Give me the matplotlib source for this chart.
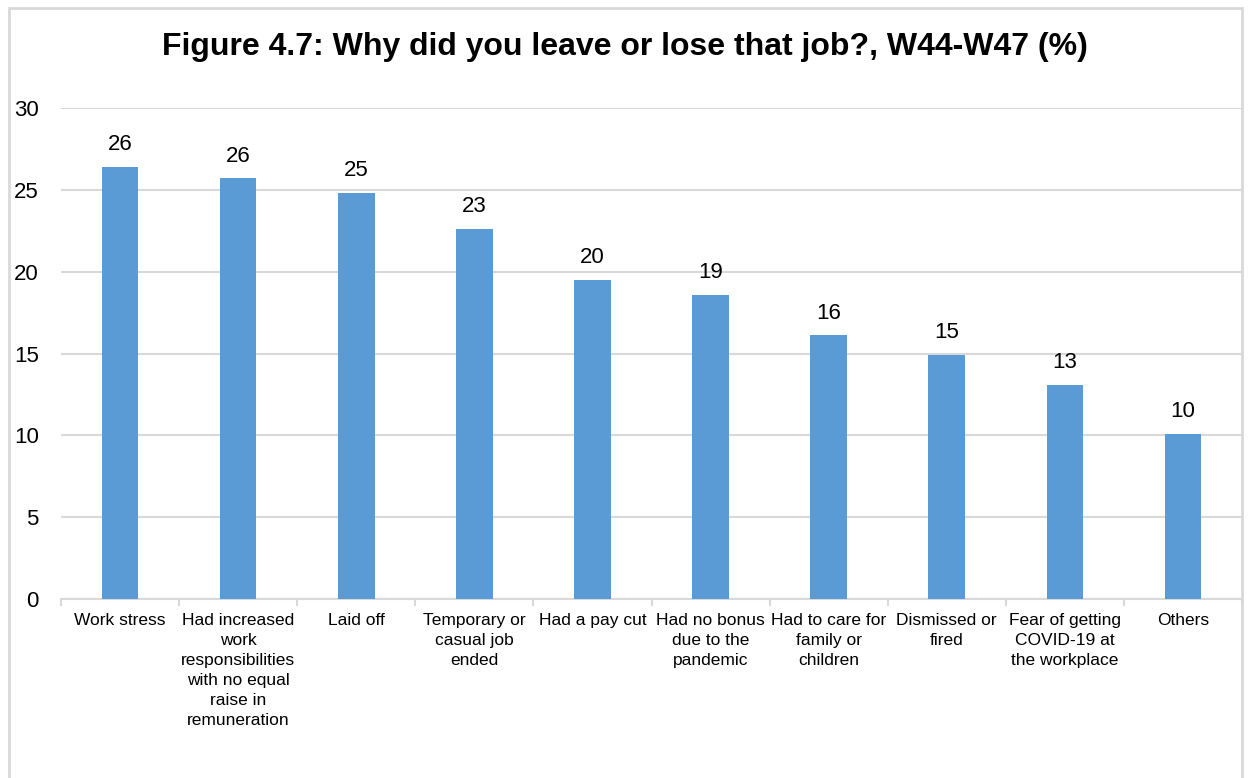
import matplotlib
matplotlib.use("Agg")
import matplotlib.pyplot as plt
from matplotlib.patches import Rectangle
import numpy as np

plt.rcParams['font.family'] = ['Liberation Sans', 'DejaVu Sans']

categories = [
    "Work stress",
    "Had increased\nwork\nresponsibilities\nwith no equal\nraise in\nremuneration",
    "Laid off",
    "Temporary or\ncasual job\nended",
    "Had a pay cut",
    "Had no bonus\ndue to the\npandemic",
    "Had to care for\nfamily or\nchildren",
    "Dismissed or\nfired",
    "Fear of getting\nCOVID-19 at\nthe workplace",
    "Others",
]
values = [26.4, 25.7, 24.8, 22.6, 19.5, 18.6, 16.1, 14.9, 13.1, 10.1]
y_ticks = [0, 5, 10, 15, 20, 25, 30]
title = "Figure 4.7: Why did you leave or lose that job?, W44-W47 (%)"

bar_color = "#5B9BD5"
grid_color = "#D9D9D9"

fig = plt.figure(figsize=(12.49, 7.78), dpi=100)
W, H = 1249, 778

# light frame around the chart area
fig.patches.append(Rectangle((8.5 / W, -0.05), (1242 - 8.5) / W, 1.05 - 7.5 / H,
                             transform=fig.transFigure, fill=False,
                             edgecolor=grid_color, linewidth=2))

ax = fig.add_axes([61 / W, 1 - 599 / H, (1242 - 61) / W, (599 - 108) / H])

x = np.arange(len(categories))
bars = ax.bar(x, values, width=0.31, color=bar_color, zorder=3)

for xi, v in zip(x, values):
    ax.annotate(f"{v:.0f}", (xi, v), xytext=(0, 8.5), textcoords="offset points",
                ha="center", va="bottom", fontsize=16, color="#000000")

ax.set_ylim(0, 30)
ax.set_xlim(-0.5, len(categories) - 0.5)
ax.set_yticks(y_ticks)
ax.set_yticklabels([str(t) for t in y_ticks], fontsize=16)
ax.tick_params(axis="y", length=0, pad=16)
ax.yaxis.grid(True, color=grid_color, linewidth=1.5, zorder=0)

ax.set_xticks(x)
ax.set_xticklabels(categories, fontsize=12.5, linespacing=1.42, va="top")
ax.tick_params(axis="x", which="major", length=0, pad=10)
ax.set_xticks(np.arange(len(categories) + 1) - 0.5, minor=True)
ax.tick_params(axis="x", which="minor", length=5, width=1.5, color=grid_color)

for s in ["top", "right", "left"]:
    ax.spines[s].set_visible(False)
ax.spines["bottom"].set_color(grid_color)
ax.spines["bottom"].set_linewidth(1.5)

fig.text(0.5, 1 - 47 / H, title, ha="center", va="center",
         fontsize=23, fontweight="bold")

fig.savefig("out.png", dpi=100)
